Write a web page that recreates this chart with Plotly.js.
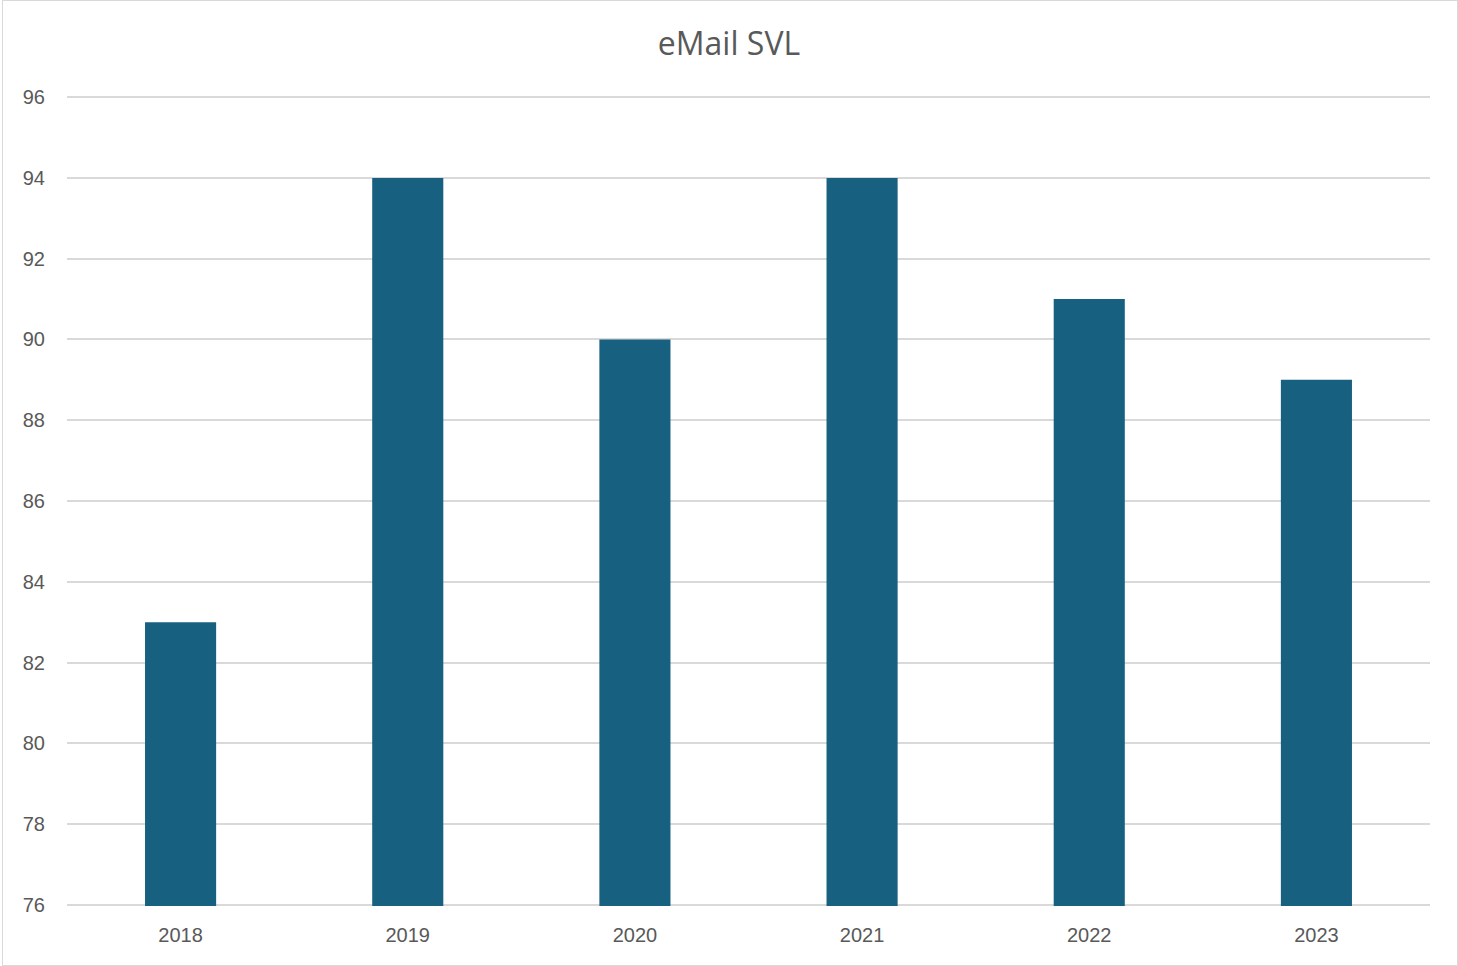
<!DOCTYPE html>
<html>
<head>
<meta charset="utf-8">
<script src="https://cdn.plot.ly/plotly-3.0.1.min.js"></script>
<style>
html,body{margin:0;padding:0;background:#fff;}
#frame{position:absolute;left:2px;top:0px;width:1454px;height:964px;border:1px solid #d9d9d9;}
#chart{position:absolute;left:-3px;top:-1px;width:1458px;height:966px;}
</style>
</head>
<body>
<div id="frame"><div id="chart"></div></div>
<script>
const years = ['2018','2019','2020','2021','2022','2023'];
const svl = [83, 94, 90, 94, 91, 89];
const yTicks = [76,78,80,82,84,86,88,90,92,94,96];

Plotly.newPlot('chart', [{
  type: 'bar',
  x: years,
  y: svl,
  marker: {color: '#17607F'},
  hoverinfo: 'x+y'
}], {
  width: 1458, height: 966,
  margin: {l: 67, r: 28, t: 96, b: 60},
  paper_bgcolor: 'rgba(0,0,0,0)',
  plot_bgcolor: '#fff',
  bargap: 0.687,
  title: {text: 'eMail SVL', x: 0.5, xanchor: 'center', y: 0.955, yanchor: 'middle', yref: 'container',
          font: {family: '"Open Sans", Inter, sans-serif', size: 32, color: '#595959'}},
  xaxis: {
    type: 'category',
    tickfont: {family: '"Liberation Sans", Arial, sans-serif', size: 20, color: '#595959'},
    showgrid: false, ticks: '', showline: false, ticklabelstandoff: 15
  },
  yaxis: {
    range: [75.97, 96.03],
    tickvals: yTicks,
    tickfont: {family: '"Liberation Sans", Arial, sans-serif', size: 20, color: '#595959'},
    gridcolor: '#d9d9d9', gridwidth: 1.5,
    zeroline: false, showline: false, ticks: '', ticklabelstandoff: 21
  },
  showlegend: false
}, {displayModeBar: false});
</script>
</body>
</html>
